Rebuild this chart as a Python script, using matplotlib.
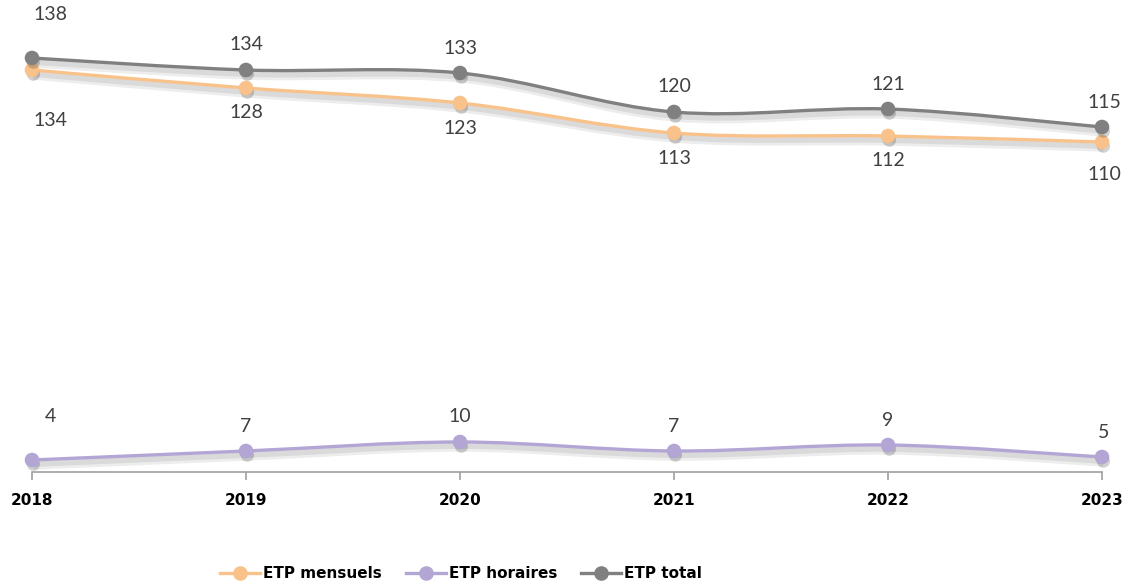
import matplotlib.pyplot as plt
import matplotlib.patheffects as pe
from matplotlib.path import Path
from matplotlib.patches import PathPatch
from matplotlib.lines import Line2D

years = [2018, 2019, 2020, 2021, 2022, 2023]
mensuels = [134, 128, 123, 113, 112, 110]
horaires = [4, 7, 10, 7, 9, 5]
total = [138, 134, 133, 120, 121, 115]

plt.rcParams['font.family'] = ['Lato', 'DejaVu Sans']

fig = plt.figure(figsize=(11.3, 5.88), dpi=100)
ax = fig.add_axes([32 / 1130, 1 - 472 / 588, 1070 / 1130, 450 / 588])
ax.set_xlim(2018, 2023)
ax.set_ylim(0, 150)


def smooth_path(xs, ys):
    # bezier a la Excel "lissage"
    verts = [(xs[0], ys[0])]
    codes = [Path.MOVETO]
    n = len(xs)
    for i in range(n - 1):
        x0, y0 = (xs[i - 1], ys[i - 1]) if i > 0 else (xs[i], ys[i])
        x3, y3 = (xs[i + 2], ys[i + 2]) if i + 2 < n else (xs[i + 1], ys[i + 1])
        c1 = (xs[i] + (xs[i + 1] - x0) / 6, ys[i] + (ys[i + 1] - y0) / 6)
        c2 = (xs[i + 1] - (x3 - xs[i]) / 6, ys[i + 1] - (y3 - ys[i]) / 6)
        verts += [c1, c2, (xs[i + 1], ys[i + 1])]
        codes += [Path.CURVE4] * 3
    return Path(verts, codes)


shadow_line = [pe.SimpleLineShadow(offset=(1, -3.5), shadow_color='#000000', alpha=0.07, linewidth=7),
               pe.SimpleLineShadow(offset=(1, -3), shadow_color='#000000', alpha=0.08, linewidth=4),
               pe.Normal()]
shadow_mk = [pe.SimplePatchShadow(offset=(1, -3), shadow_rgbFace='#000000', alpha=0.18), pe.Normal()]

series = [
    ('ETP mensuels', mensuels, '#F9C28A', 'below'),
    ('ETP horaires', horaires, '#B3A6D5', 'above'),
    ('ETP total', total, '#808080', 'above'),
]

handles = []
for name, vals, col, pos in series:
    patch = PathPatch(smooth_path(years, vals), facecolor='none', edgecolor=col, lw=2.4,
                      clip_on=False, zorder=3)
    patch.set_path_effects(shadow_line)
    ax.add_patch(patch)
    ax.plot(years, vals, 'o', color=col, ms=9.5, clip_on=False, zorder=4, path_effects=shadow_mk)
    handles.append(Line2D([], [], color=col, lw=2.4, marker='o', ms=9.5, label=name))
    for i, (x, v) in enumerate(zip(years, vals)):
        dx, dy = 0, 25
        if i == 0:
            dx, dy = 18, 44 if pos == 'above' else 50
        if i == len(years) - 1:
            dx = 2
            if pos == 'below':
                dy = 33
        if pos == 'below':
            dy = -dy
        ax.annotate(str(v), (x, v), xytext=(dx * 0.72, dy * 0.72), textcoords='offset points',
                    ha='center', va='center', fontsize=14, color='#404040', annotation_clip=False)

for s in ['top', 'right', 'left']:
    ax.spines[s].set_visible(False)
ax.spines['bottom'].set_color('#A0A0A0')
ax.spines['bottom'].set_linewidth(1.2)
ax.set_yticks([])
ax.set_xticks(years)
ax.set_xticklabels([str(y) for y in years], fontsize=11, fontweight='bold', color='#000000',
                   family='DejaVu Sans')
ax.tick_params(axis='x', length=6, width=1.2, color='#A0A0A0', pad=9)

fig.legend(handles=handles, loc='center', bbox_to_anchor=(461 / 1130, 1 - 574 / 588), ncol=3,
           frameon=False, prop={'weight': 'bold', 'size': 11, 'family': 'DejaVu Sans'},
           handlelength=2.6, handletextpad=0.2, columnspacing=1.6)

fig.savefig('out.png', dpi=100)
